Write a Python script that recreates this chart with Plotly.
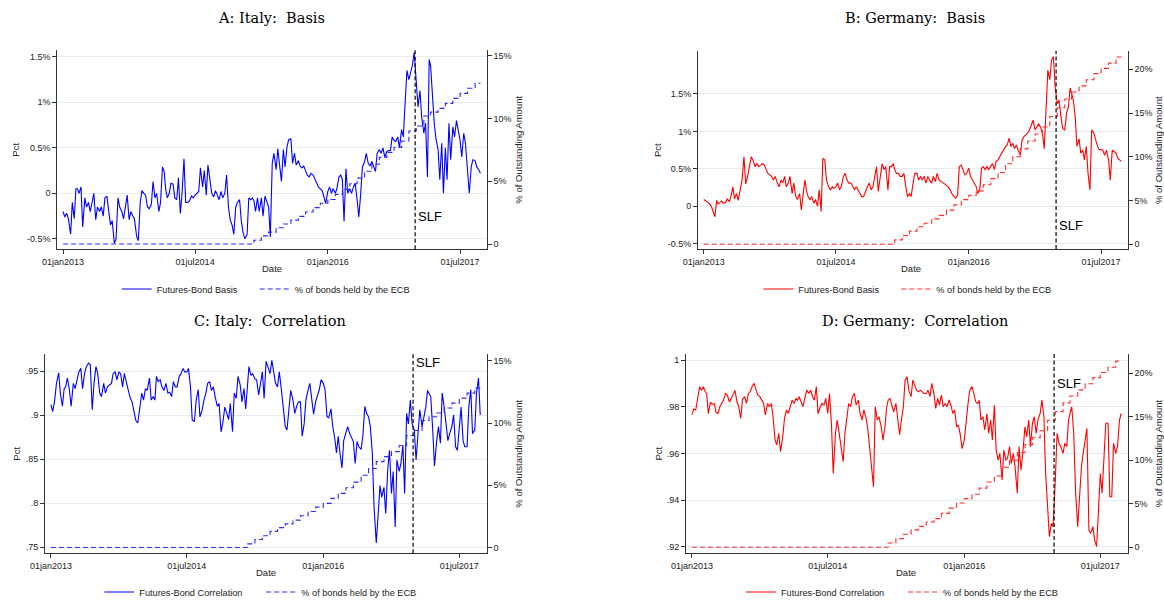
import datetime as dt
import plotly.graph_objects as go

# ---------------- data ----------------
# 4 observations per month, Jan 2013 .. Sep 2017
N_MONTHS = 57
OBS_DAYS = [1, 8, 16, 23]
dates = [dt.date(2013 + m // 12, m % 12 + 1, d) for m in range(N_MONTHS) for d in OBS_DAYS]

x_ticks = ["2013-01-01", "2014-07-01", "2016-01-01", "2017-07-01"]
x_ticktext = ["01jan2013", "01jul2014", "01jan2016", "01jul2017"]
SLF_DATE = "2016-12-27"

# Italy futures-bond basis (%)
italy_basis = [
    -0.20, -0.26, -0.22, -0.28, -0.45, -0.10, -0.28, 0.05, 0.05, 0.00, 0.07, -0.37,
    -0.05, -0.15, -0.10, -0.20, -0.10, 0.00, -0.29, -0.15, -0.20, -0.15, -0.25, -0.05,
    -0.03, -0.20, -0.35, -0.30, -0.55, -0.50, -0.05, -0.15, -0.20, -0.28, -0.15, -0.02,
    -0.29, -0.20, -0.25, -0.28, -0.47, -0.52, -0.10, 0.03, 0.00, -0.02, -0.15, -0.17,
    -0.12, 0.13, -0.05, 0.00, -0.20, -0.10, 0.29, 0.24, 0.05, -0.05, 0.00, 0.11,
    0.10, -0.05, -0.07, 0.17, -0.22, 0.00, 0.38, -0.10, -0.10, -0.08, -0.03, -0.05,
    -0.02, 0.00, 0.02, 0.28, 0.07, 0.25, -0.02, 0.31, 0.10, 0.00, -0.04, 0.03,
    -0.02, -0.07, 0.02, -0.05, 0.00, 0.20, -0.15, -0.29, -0.35, -0.45, -0.15, -0.10,
    -0.07, -0.30, -0.44, -0.50, -0.45, -0.05, -0.07, -0.05, -0.08, -0.20, -0.05, -0.20,
    -0.05, -0.25, -0.03, -0.10, -0.15, -0.48, 0.33, 0.44, 0.26, 0.49, 0.31, 0.13,
    0.48, 0.29, 0.51, 0.59, 0.60, 0.33, 0.44, 0.31, 0.36, 0.30, 0.28, 0.30,
    0.25, 0.20, 0.18, 0.22, 0.20, 0.16, 0.12, 0.07, 0.05, 0.03, -0.04, -0.11,
    0.02, 0.07, 0.00, 0.05, 0.00, 0.06, 0.18, 0.20, 0.15, -0.31, 0.27, 0.00,
    0.05, 0.00, 0.07, 0.11, -0.07, -0.26, 0.00, 0.29, 0.35, 0.44, 0.33, 0.30,
    0.35, 0.30, 0.24, 0.44, 0.48, 0.44, 0.50, 0.40, 0.46, 0.47, 0.47, 0.62,
    0.58, 0.57, 0.62, 0.50, 0.70, 0.62, 1.10, 1.35, 1.25, 1.32, 1.41, 1.55,
    1.25, 0.95, 1.13, 0.84, 0.66, 0.77, 0.18, 1.47, 1.40, 1.10, 0.77, 0.60,
    0.48, 0.15, 0.55, 0.00, 0.50, 0.15, 0.77, 0.37, 0.73, 0.62, 0.80, 0.70,
    0.58, 0.40, 0.66, 0.55, 0.18, 0.00, 0.29, 0.37, 0.36, 0.29, 0.26, 0.22,
]

# Germany futures-bond basis (%)
germany_basis = [
    0.09, 0.07, 0.06, 0.04, 0.00, -0.07, -0.14, 0.08, 0.03, 0.05, 0.07, 0.04,
    0.05, 0.10, 0.06, 0.13, 0.26, 0.10, 0.17, 0.08, 0.22, 0.35, 0.66, 0.30,
    0.40, 0.53, 0.66, 0.62, 0.53, 0.57, 0.53, 0.55, 0.57, 0.55, 0.50, 0.44,
    0.42, 0.40, 0.35, 0.40, 0.31, 0.26, 0.35, 0.31, 0.40, 0.26, 0.31, 0.40,
    0.17, 0.31, 0.13, 0.09, 0.17, -0.05, 0.17, 0.35, 0.22, 0.13, 0.09, 0.13,
    0.04, 0.09, 0.00, 0.22, -0.07, 0.64, 0.62, 0.35, 0.26, 0.22, 0.26, 0.24,
    0.26, 0.31, 0.22, 0.26, 0.40, 0.44, 0.35, 0.31, 0.31, 0.26, 0.22, 0.26,
    0.22, 0.17, 0.13, 0.13, 0.22, 0.26, 0.31, 0.22, 0.26, 0.40, 0.53, 0.20,
    0.44, 0.57, 0.49, 0.53, 0.22, 0.53, 0.53, 0.57, 0.49, 0.44, 0.44, 0.40,
    0.40, 0.44, 0.26, 0.13, 0.17, 0.13, 0.31, 0.44, 0.44, 0.35, 0.40, 0.35,
    0.40, 0.31, 0.40, 0.35, 0.31, 0.40, 0.33, 0.44, 0.35, 0.33, 0.31, 0.30,
    0.28, 0.26, 0.22, 0.17, 0.13, 0.11, 0.15, 0.53, 0.55, 0.49, 0.42, 0.44,
    0.51, 0.40, 0.35, 0.31, 0.26, 0.17, 0.24, 0.51, 0.53, 0.49, 0.53, 0.49,
    0.53, 0.57, 0.49, 0.60, 0.62, 0.66, 0.71, 0.75, 0.80, 0.82, 0.91, 0.80,
    0.84, 0.77, 0.82, 0.75, 0.68, 0.88, 0.93, 0.95, 0.98, 1.02, 1.10, 1.15,
    1.02, 1.06, 1.10, 1.06, 0.97, 0.77, 1.33, 1.82, 1.69, 1.95, 2.00, 1.60,
    1.37, 1.42, 1.20, 1.04, 1.02, 1.24, 1.33, 1.58, 1.51, 1.42, 1.20, 0.80,
    0.90, 0.71, 0.75, 0.62, 0.80, 0.44, 0.22, 1.02, 0.98, 0.89, 0.80, 0.76,
    0.75, 0.75, 0.68, 0.75, 0.62, 0.35, 0.75, 0.73, 0.71, 0.64, 0.62, 0.60,
]

# Italy futures-bond correlation
italy_corr = [
    0.912, 0.904, 0.917, 0.936, 0.948, 0.924, 0.910, 0.930, 0.932, 0.942, 0.929, 0.910,
    0.936, 0.930, 0.940, 0.949, 0.953, 0.930, 0.947, 0.955, 0.959, 0.957, 0.906, 0.936,
    0.955, 0.947, 0.925, 0.921, 0.936, 0.925, 0.932, 0.934, 0.936, 0.947, 0.949, 0.940,
    0.949, 0.947, 0.932, 0.947, 0.934, 0.928, 0.919, 0.915, 0.904, 0.894, 0.891, 0.906,
    0.925, 0.917, 0.930, 0.928, 0.942, 0.917, 0.921, 0.917, 0.944, 0.938, 0.940, 0.932,
    0.928, 0.936, 0.925, 0.926, 0.921, 0.938, 0.932, 0.932, 0.944, 0.947, 0.953, 0.949,
    0.949, 0.953, 0.932, 0.894, 0.893, 0.917, 0.929, 0.898, 0.906, 0.917, 0.925, 0.936,
    0.938, 0.928, 0.932, 0.921, 0.910, 0.913, 0.881, 0.891, 0.909, 0.903, 0.895, 0.913,
    0.881, 0.925, 0.919, 0.944, 0.934, 0.915, 0.930, 0.907, 0.928, 0.955, 0.945, 0.947,
    0.941, 0.940, 0.923, 0.936, 0.949, 0.919, 0.961, 0.955, 0.947, 0.962, 0.947, 0.936,
    0.932, 0.949, 0.930, 0.913, 0.887, 0.883, 0.909, 0.928, 0.917, 0.902, 0.910, 0.915,
    0.915, 0.876, 0.890, 0.917, 0.929, 0.936, 0.917, 0.901, 0.915, 0.921, 0.929, 0.940,
    0.936, 0.929, 0.898, 0.897, 0.907, 0.887, 0.874, 0.857, 0.876, 0.857, 0.840, 0.871,
    0.879, 0.887, 0.879, 0.875, 0.870, 0.845, 0.870, 0.864, 0.861, 0.876, 0.910, 0.902,
    0.898, 0.887, 0.857, 0.796, 0.755, 0.785, 0.820, 0.807, 0.818, 0.788, 0.838, 0.860,
    0.811, 0.836, 0.773, 0.849, 0.836, 0.845, 0.866, 0.811, 0.902, 0.890, 0.917, 0.890,
    0.883, 0.849, 0.876, 0.906, 0.887, 0.898, 0.909, 0.928, 0.925, 0.921, 0.883, 0.842,
    0.871, 0.887, 0.868, 0.925, 0.909, 0.887, 0.871, 0.879, 0.887, 0.900, 0.864, 0.860,
    0.883, 0.909, 0.871, 0.864, 0.864, 0.909, 0.929, 0.879, 0.883, 0.925, 0.942, 0.900,
]

# Germany futures-bond correlation
germany_corr = [
    0.9766, 0.9790, 0.9786, 0.9830, 0.9886, 0.9871, 0.9886, 0.9864, 0.9857, 0.9770, 0.9820, 0.9810,
    0.9814, 0.9775, 0.9771, 0.9800, 0.9814, 0.9829, 0.9857, 0.9850, 0.9820, 0.9836, 0.9857, 0.9870,
    0.9820, 0.9800, 0.9750, 0.9830, 0.9843, 0.9814, 0.9857, 0.9865, 0.9890, 0.9900, 0.9871, 0.9850,
    0.9843, 0.9828, 0.9814, 0.9765, 0.9814, 0.9800, 0.9814, 0.9757, 0.9657, 0.9636, 0.9686, 0.9607,
    0.9671, 0.9750, 0.9786, 0.9771, 0.9800, 0.9828, 0.9814, 0.9836, 0.9828, 0.9843, 0.9821, 0.9800,
    0.9843, 0.9871, 0.9857, 0.9871, 0.9843, 0.9828, 0.9886, 0.9770, 0.9800, 0.9814, 0.9807, 0.9836,
    0.9771, 0.9857, 0.9721, 0.9514, 0.9686, 0.9743, 0.9686, 0.9629, 0.9564, 0.9686, 0.9771, 0.9814,
    0.9800, 0.9843, 0.9857, 0.9807, 0.9828, 0.9771, 0.9743, 0.9786, 0.9757, 0.9714, 0.9629, 0.9543,
    0.9457, 0.9800, 0.9743, 0.9757, 0.9714, 0.9657, 0.9714, 0.9800, 0.9828, 0.9836, 0.9800, 0.9778,
    0.9814, 0.9757, 0.9680, 0.9743, 0.9800, 0.9914, 0.9928, 0.9871, 0.9843, 0.9914, 0.9893, 0.9871,
    0.9864, 0.9871, 0.9864, 0.9857, 0.9857, 0.9871, 0.9843, 0.9900, 0.9857, 0.9793, 0.9836, 0.9807,
    0.9850, 0.9800, 0.9814, 0.9800, 0.9829, 0.9807, 0.9771, 0.9786, 0.9714, 0.9721, 0.9679, 0.9620,
    0.9657, 0.9743, 0.9814, 0.9871, 0.9886, 0.9857, 0.9821, 0.9814, 0.9828, 0.9743, 0.9757, 0.9700,
    0.9771, 0.9686, 0.9743, 0.9657, 0.9807, 0.9614, 0.9571, 0.9600, 0.9486, 0.9614, 0.9571, 0.9579,
    0.9629, 0.9557, 0.9600, 0.9543, 0.9429, 0.9629, 0.9529, 0.9600, 0.9714, 0.9671, 0.9743, 0.9629,
    0.9729, 0.9757, 0.9686, 0.9743, 0.9771, 0.9829, 0.9757, 0.9514, 0.9343, 0.9243, 0.9300, 0.9286,
    0.9486, 0.9686, 0.9643, 0.9629, 0.9600, 0.9643, 0.9629, 0.9743, 0.9771, 0.9800, 0.9686, 0.9443,
    0.9286, 0.9414, 0.9543, 0.9600, 0.9657, 0.9707, 0.9271, 0.9257, 0.9286, 0.9229, 0.9200, 0.9343,
    0.9514, 0.9429, 0.9614, 0.9729, 0.9729, 0.9414, 0.9414, 0.9643, 0.9600, 0.9629, 0.9743, 0.9771,
]

# % of outstanding bonds held by the ECB (monthly, Jan 2013 .. Sep 2017)
italy_ecb_monthly = [0.0] * 26 + [
    0.3, 0.65, 0.95, 1.3, 1.6, 1.9, 2.2, 2.55, 2.9, 3.25, 3.55, 3.95, 4.35, 4.8, 5.25, 5.8,
    6.35, 6.9, 7.3, 7.7, 8.2, 9.0, 9.4, 10.2, 10.5, 10.8, 11.2, 11.6, 12.0, 12.4, 12.8,
]
germany_ecb_monthly = [0.0] * 26 + [
    0.5, 1.0, 1.5, 2.0, 2.4, 2.9, 3.3, 3.9, 4.5, 5.1, 5.6, 6.1, 6.8, 7.5, 8.2, 9.2,
    10.0, 10.9, 11.8, 12.6, 13.4, 14.6, 15.6, 16.6, 17.4, 18.1, 18.8, 19.5, 20.1, 20.7, 21.4,
]
italy_ecb = [v for v in italy_ecb_monthly for _ in OBS_DAYS]
germany_ecb = [v for v in germany_ecb_monthly for _ in OBS_DAYS]

# ---------------- styling / layout ----------------
W, H = 1164, 600
BLUE, BLUE_D = "#0000ff", "#2a2aff"
RED, RED_D = "#ff0000", "#ff2a2a"
TXT = "#222222"
SANS = "Liberation Sans, Arial, sans-serif"
SERIF = "DejaVu Serif, serif"
XRANGE = ["2012-12-08", "2017-10-19"]


def fx(p):
    return p / W


def fy(p):
    return 1 - p / H


panels = [
    dict(title="A: Italy:  Basis", y=italy_basis, ecb=italy_ecb, color=BLUE, dcolor=BLUE_D,
         name="Futures-Bond Basis", xdom=(57.3, 486.7), ydom=(50, 249.3),
         lrange=[-0.615, 1.575], ltv=[-0.5, 0, 0.5, 1, 1.5], ltt=["-0.5%", "0", "0.5%", "1%", "1.5%"],
         rrange=[-0.42, 15.45], rtv=[0, 5, 10, 15], slf_y=-0.25,
         title_xy=(271, 18), pct_x=16, date_xy=(271.5, 269), rt_x=519,
         leg_x=116.7, leg_y=289, leg_w=93),
    dict(title="B: Germany:  Basis", y=germany_basis, ecb=germany_ecb, color=RED, dcolor=RED_D,
         name="Futures-Bond Basis", xdom=(698, 1127.7), ydom=(51, 249),
         lrange=[-0.57, 2.074], ltv=[-0.5, 0, 0.5, 1, 1.5], ltt=["-0.5%", "0", "0.5%", "1%", "1.5%"],
         rrange=[-0.54, 22.09], rtv=[0, 5, 10, 15, 20], slf_y=-0.25,
         title_xy=(915, 18), pct_x=657, date_xy=(911, 269), rt_x=1158,
         leg_x=758.3, leg_y=289, leg_w=93),
    dict(title="C: Italy:  Correlation", y=italy_corr, ecb=italy_ecb, color=BLUE, dcolor=BLUE_D,
         name="Futures-Bond Correlation", xdom=(45, 486.7), ydom=(354, 553.3),
         lrange=[0.7432, 0.9693], ltv=[0.75, 0.8, 0.85, 0.9, 0.95], ltt=[".75", ".8", ".85", ".9", ".95"],
         rrange=[-0.46, 15.54], rtv=[0, 5, 10, 15], slf_y=0.9594,
         title_xy=(270, 321), pct_x=17, date_xy=(265.7, 572), rt_x=519,
         leg_x=99.3, leg_y=592, leg_w=117),
    dict(title="D: Germany:  Correlation", y=germany_corr, ecb=germany_ecb, color=RED, dcolor=RED_D,
         name="Futures-Bond Correlation", xdom=(686, 1127.7), ydom=(354, 553),
         lrange=[0.9173, 1.0026], ltv=[0.92, 0.94, 0.96, 0.98, 1.0], ltt=[".92", ".94", ".96", ".98", "1"],
         rrange=[-0.655, 22.22], rtv=[0, 5, 10, 15, 20], slf_y=0.990,
         title_xy=(915, 321), pct_x=658, date_xy=(906, 572), rt_x=1158,
         leg_x=741, leg_y=592, leg_w=117),
]

fig = go.Figure()
AX = dict(showline=True, linecolor="#333333", linewidth=1, ticks="outside", ticklen=4,
          tickcolor="#333333", tickwidth=1, zeroline=False,
          tickfont=dict(family=SANS, size=9, color=TXT))
annotations = []
shapes = []
layout = {}

for i, p in enumerate(panels):
    n = i + 1
    xa = "x" if n == 1 else f"x{n}"
    yl_n, yr_n = 2 * n - 1, 2 * n
    yl = "y" if yl_n == 1 else f"y{yl_n}"
    yr = f"y{yr_n}"
    leg = "legend" if n == 1 else f"legend{n}"

    fig.add_trace(go.Scatter(x=dates, y=p["y"], mode="lines", name=p["name"],
                             line=dict(color=p["color"], width=1.1), legendwidth=p["leg_w"],
                             xaxis=xa, yaxis=yl, legend=leg))
    fig.add_trace(go.Scatter(x=dates, y=p["ecb"], mode="lines", name="% of bonds held by the ECB",
                             line=dict(color=p["dcolor"], width=1.1, dash="5px,3px", shape="hv"),
                             xaxis=xa, yaxis=yr, legend=leg))

    xname = "xaxis" if n == 1 else f"xaxis{n}"
    ylname = "yaxis" if yl_n == 1 else f"yaxis{yl_n}"
    yrname = f"yaxis{yr_n}"
    layout[xname] = dict(AX, type="date", domain=[fx(p["xdom"][0]), fx(p["xdom"][1])], anchor=yl,
                         range=XRANGE, tickvals=x_ticks, ticktext=x_ticktext, showgrid=False)
    layout[ylname] = dict(AX, domain=[fy(p["ydom"][1]), fy(p["ydom"][0])], anchor=xa,
                          range=p["lrange"], tickvals=p["ltv"], ticktext=p["ltt"],
                          showgrid=True, gridcolor="#e4ecef", gridwidth=1)
    layout[yrname] = dict(AX, overlaying=yl, side="right", anchor=xa, range=p["rrange"],
                          tickvals=p["rtv"], ticktext=[("0" if v == 0 else f"{v}%") for v in p["rtv"]],
                          showgrid=False)
    layout[leg] = dict(orientation="h", x=fx(p["leg_x"]), xanchor="left",
                       y=fy(p["leg_y"]), yanchor="middle", bgcolor="rgba(0,0,0,0)",
                       font=dict(family=SANS, size=9.2, color=TXT), itemwidth=30)

    # SLF vertical marker
    shapes.append(dict(type="line", xref=xa, yref=f"{yl} domain", x0=SLF_DATE, x1=SLF_DATE,
                       y0=0, y1=1, line=dict(color="black", width=1.2, dash="4px,2.5px")))
    annotations.append(dict(text="SLF", xref=xa, yref=yl, x=SLF_DATE, y=p["slf_y"],
                            xanchor="left", yanchor="middle", xshift=1, showarrow=False,
                            font=dict(family=SANS, size=13, color="black")))
    # titles and axis titles
    annotations.append(dict(text=p["title"], xref="paper", yref="paper",
                            x=fx(p["title_xy"][0]), y=fy(p["title_xy"][1]),
                            xanchor="center", yanchor="middle", showarrow=False,
                            font=dict(family=SERIF, size=14.5, color="black")))
    ymid = (p["ydom"][0] + p["ydom"][1]) / 2
    annotations.append(dict(text="Pct", xref="paper", yref="paper", x=fx(p["pct_x"]), y=fy(ymid),
                            xanchor="center", yanchor="middle", textangle=-90, showarrow=False,
                            font=dict(family=SANS, size=9.5, color=TXT)))
    annotations.append(dict(text="% of Outstanding Amount", xref="paper", yref="paper",
                            x=fx(p["rt_x"]), y=fy(ymid), xanchor="center", yanchor="middle",
                            textangle=-90, showarrow=False,
                            font=dict(family=SANS, size=9.5, color=TXT)))
    annotations.append(dict(text="Date", xref="paper", yref="paper",
                            x=fx(p["date_xy"][0]), y=fy(p["date_xy"][1]),
                            xanchor="center", yanchor="middle", showarrow=False,
                            font=dict(family=SANS, size=9.5, color=TXT)))

fig.update_layout(width=W, height=H, margin=dict(l=0, r=0, t=0, b=0, autoexpand=False),
                  paper_bgcolor="white", plot_bgcolor="white",
                  annotations=annotations, shapes=shapes, showlegend=True, **layout)

fig.write_html("out.html", config={"displayModeBar": False},
               post_script="document.body.style.margin='0';document.body.style.overflow='hidden';")
